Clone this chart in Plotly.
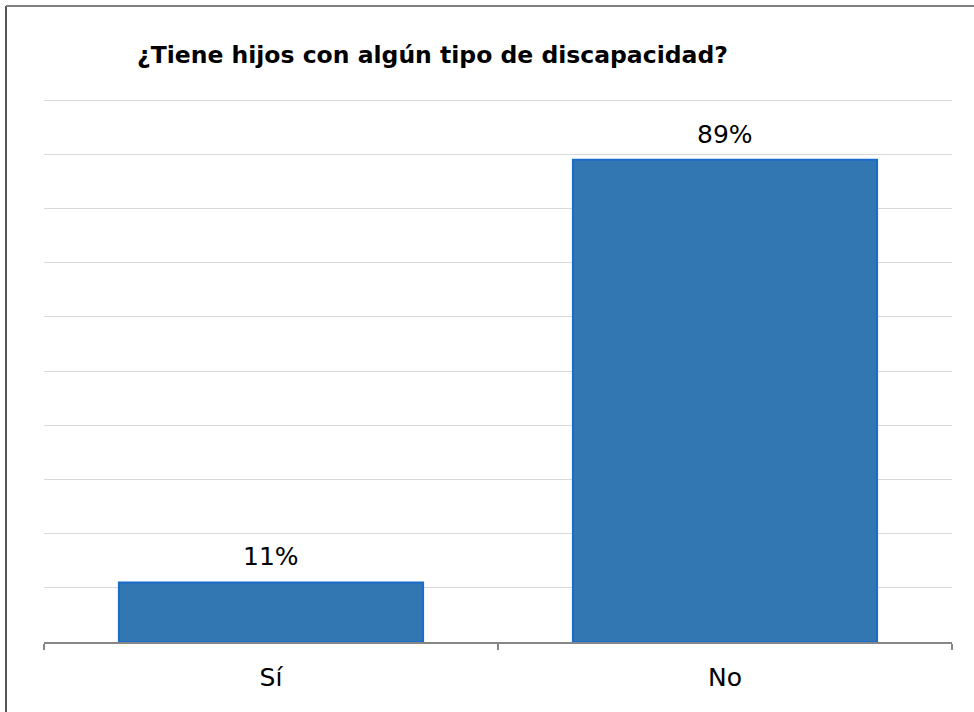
import plotly.graph_objects as go

# respuestas de la encuesta
categorias = ["Sí", "No"]
porcentajes = [11, 89]
etiquetas = [f"{v}%" for v in porcentajes]

titulo = "¿Tiene hijos con algún tipo de discapacidad?"

fig = go.Figure()
fig.add_trace(go.Bar(
    x=categorias,
    y=porcentajes,
    width=0.67,
    marker=dict(color="#3277b2", line=dict(color="#1b6ccc", width=2)),
    hoverinfo="skip",
))

# etiquetas de valor encima de cada barra
for cat, val, txt in zip(categorias, porcentajes, etiquetas):
    fig.add_annotation(
        x=cat, y=val, text=txt, showarrow=False,
        yanchor="bottom", yshift=9,
        font=dict(family="DejaVu Sans", size=25, color="#000000"),
    )

# borde exterior del grafico (solo izquierda y arriba visibles)
fig.add_shape(type="line", xref="paper", yref="paper",
              x0=(6 - 44) / 908, x1=(6 - 44) / 908, y0=-0.3, y1=(642 - 6) / 543,
              line=dict(color="#555555", width=2))
fig.add_shape(type="line", xref="paper", yref="paper",
              x0=(6 - 44) / 908, x1=1.2, y0=(642 - 6) / 543, y1=(642 - 6) / 543,
              line=dict(color="#808080", width=2))

fig.update_layout(
    width=974, height=712,
    margin=dict(l=44, r=22, t=99, b=70),
    paper_bgcolor="white", plot_bgcolor="white",
    showlegend=False,
    title=dict(
        text=f"<b>{titulo}</b>",
        xref="container", yref="container",
        x=137 / 974, xanchor="left",
        y=1 - 55 / 712, yanchor="middle",
        font=dict(family="DejaVu Sans", size=23.5, color="#000000"),
    ),
    xaxis=dict(
        type="category",
        showline=True, linecolor="#868686", linewidth=2,
        ticks="outside", tickson="boundaries", ticklen=6,
        tickcolor="#868686", tickwidth=2,
        ticklabelstandoff=12,
        tickfont=dict(family="DejaVu Sans", size=25, color="#000000"),
        showgrid=False,
    ),
    yaxis=dict(
        range=[0, 100.2], dtick=10,
        showgrid=True, gridcolor="#d9d9d9", gridwidth=1,
        showticklabels=False, showline=False, zeroline=False,
    ),
)

fig.write_html("out.html", config={"displayModeBar": False},
               post_script="document.body.style.margin='0';")
